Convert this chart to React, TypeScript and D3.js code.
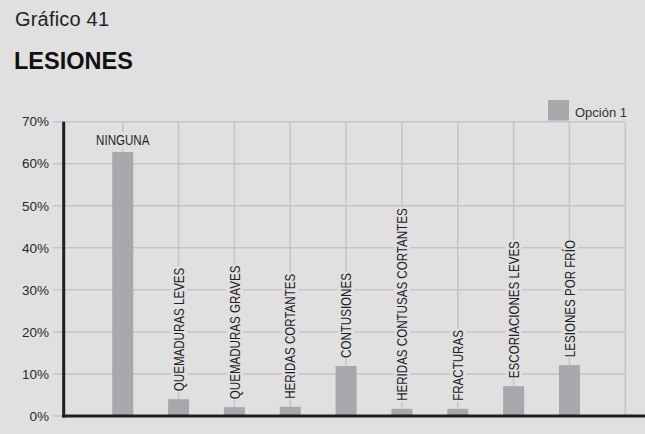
import { useEffect, useRef } from 'react'
import * as d3 from 'd3'

// Gráfico 41 – LESIONES: one series of percentages, each bar labelled with its
// category name (rotated, except the tall first one).
const categories = [
  'NINGUNA',
  'QUEMADURAS LEVES',
  'QUEMADURAS GRAVES',
  'HERIDAS CORTANTES',
  'CONTUSIONES',
  'HERIDAS CONTUSAS CORTANTES',
  'FRACTURAS',
  'ESCORIACIONES LEVES',
  'LESIONES POR FRÍO',
]
const values = [62.8, 4.0, 2.1, 2.2, 11.9, 1.7, 1.7, 7.1, 12.1]
const yTicks = [0, 10, 20, 30, 40, 50, 60, 70]
const seriesName = 'Opción 1'

const W = 645
const H = 434
const BG = '#e0e0e0'
const BAR = '#a7a8ab'
const GRID = '#c5c5c9'
const INK = '#1f1f1f'
const SANS = '"Liberation Sans", Arial, sans-serif'
// no narrow face installed, so the bar labels are squeezed horizontally
const SQUEEZE = 0.81

export default function App() {
  const ref = useRef<SVGSVGElement>(null)

  useEffect(() => {
    const svg = d3.select(ref.current)
    svg.selectAll('*').remove()

    const x = d3.scaleLinear().domain([0, categories.length + 1]).range([66.9, 625.3])
    const y = d3.scaleLinear().domain([0, 70]).range([416, 121.7])
    const axisX = 63.7

    svg.append('rect').attr('width', W).attr('height', H).attr('fill', BG)

    svg
      .append('text')
      .attr('x', 15)
      .attr('y', 26)
      .attr('font-family', SANS)
      .attr('font-size', 20)
      .attr('letter-spacing', 0.2)
      .attr('fill', INK)
      .text('Gráfico 41')
    svg
      .append('text')
      .attr('x', 14)
      .attr('y', 68.5)
      .attr('font-family', SANS)
      .attr('font-weight', 'bold')
      .attr('font-size', 23.5)
      .attr('fill', '#111')
      .text('LESIONES')

    // grid
    const grid = svg.append('g').attr('stroke', GRID).attr('stroke-width', 1.5)
    yTicks.forEach((t) => {
      grid.append('line').attr('x1', 53).attr('x2', x(categories.length + 1)).attr('y1', y(t)).attr('y2', y(t))
    })
    d3.range(1, categories.length + 2).forEach((i) => {
      grid.append('line').attr('x1', x(i)).attr('x2', x(i)).attr('y1', y(70)).attr('y2', y(0))
    })

    // y tick labels
    svg
      .append('g')
      .selectAll('text')
      .data(yTicks)
      .join('text')
      .attr('x', 49)
      .attr('y', (d) => y(d))
      .attr('dy', '0.35em')
      .attr('text-anchor', 'end')
      .attr('font-family', SANS)
      .attr('font-size', 13.5)
      .attr('fill', '#2a2a2a')
      .text((d) => `${d}%`)

    // bars
    const bw = 21
    svg
      .append('g')
      .selectAll('rect')
      .data(values)
      .join('rect')
      .attr('x', (_, i) => x(i + 1) - bw / 2)
      .attr('y', (d) => y(d))
      .attr('width', bw)
      .attr('height', (d) => y(0) - y(d))
      .attr('fill', BAR)

    // category labels with a background patch that hides the gridline
    categories.forEach((c, i) => {
      const cx = x(i + 1)
      const top = y(values[i])
      const flat = values[i] > 30
      const g = svg
        .append('g')
        .attr('transform', flat ? `translate(${cx},${top - 7})` : `translate(${cx},${top - 8}) rotate(-90)`)
        .append('g')
        .attr('transform', `scale(${SQUEEZE},1)`)
      const t = g
        .append('text')
        .attr('x', 0)
        .attr('y', 0)
        .attr('dy', flat ? 0 : '0.36em')
        .attr('text-anchor', flat ? 'middle' : 'start')
        .attr('font-family', SANS)
        .attr('font-size', 14.3)
        .attr('fill', INK)
        .text(c)
      const b = (t.node() as SVGTextElement).getBBox()
      g.insert('rect', 'text')
        .attr('x', b.x - 1)
        .attr('y', b.y)
        .attr('width', b.width + 2)
        .attr('height', b.height)
        .attr('fill', BG)
    })

    // axes
    svg
      .append('line')
      .attr('x1', axisX)
      .attr('x2', axisX)
      .attr('y1', y(70))
      .attr('y2', y(0) + 1.5)
      .attr('stroke', INK)
      .attr('stroke-width', 3)
    svg
      .append('line')
      .attr('x1', axisX - 1.5)
      .attr('x2', W)
      .attr('y1', y(0))
      .attr('y2', y(0))
      .attr('stroke', INK)
      .attr('stroke-width', 3)

    // legend
    svg.append('rect').attr('x', 548).attr('y', 100).attr('width', 21).attr('height', 20.5).attr('fill', BAR)
    svg
      .append('text')
      .attr('x', 575)
      .attr('y', 117)
      .attr('font-family', SANS)
      .attr('font-size', 13)
      .attr('fill', '#333')
      .text(seriesName)
  }, [])

  return <svg ref={ref} width={W} height={H} style={{ position: 'absolute', left: 0, top: 0 }} />
}
